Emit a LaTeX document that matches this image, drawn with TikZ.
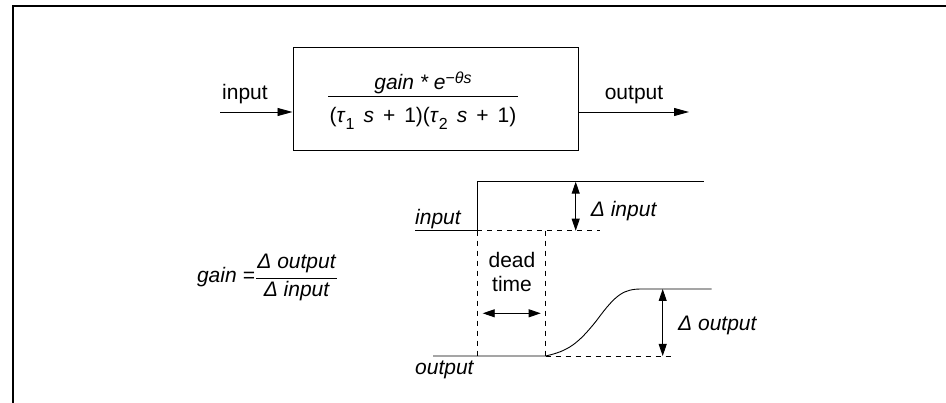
\documentclass[tikz,border=0pt]{standalone}
\usepackage{fontspec}
\setmainfont{Liberation Sans}
\usetikzlibrary{arrows.meta}
\tikzset{
  txt/.style={inner sep=0pt, anchor=base, font=\fontsize{21}{24}\selectfont},
  itxt/.style={txt, font=\fontsize{21}{24}\selectfont\itshape},
  sig/.style={line width=0.9pt},
  guide/.style={line width=0.9pt, dash pattern=on 5pt off 5pt},
  arr/.style={line width=0.9pt, -{Triangle[length=15pt,width=8pt]}},
  dbl/.style={line width=0.9pt, {Triangle[length=12pt,width=8pt]}-{Triangle[length=12pt,width=8pt]}},
  block/.style={draw, line width=1pt, minimum width=285pt, minimum height=103pt, inner sep=0pt}
}
\newcommand{\smallscript}[1]{{\fontsize{16}{16}\selectfont #1}}
\newcommand{\gap}{\hspace{9pt}}
\begin{document}
\begin{tikzpicture}[x=1pt,y=-1pt]
  \useasboundingbox (0,0) rectangle (946,403);
  % frame edges
  \draw[line width=2.2pt] (13,403) -- (13,6) -- (946,6);

  % transfer-function block
  \node[block] (box) at (435.5,99.5) {};
  \node[itxt] (num) at (423,90) {gain * e\raisebox{0.6ex}{\smallscript{\upshape−}\smallscript{θs}}};
  \node[txt] (den) at (423,122.5) {(\textit{τ}\raisebox{-0.6ex}{\smallscript{1}}\gap\textit{s}\gap+\gap1)(\textit{τ}\raisebox{-0.6ex}{\smallscript{2}}\gap\textit{s}\gap+\gap1)};
  \draw[line width=0.9pt] (328,96.7) -- (518,96.7);

  \coordinate (inS) at (220,112);
  \coordinate (outE) at (689,112);
  \draw[arr] (inS) -- (inS -| box.west);
  \draw[arr] (outE -| box.east) -- (outE);
  \node[txt] (inlab) at (245,100) {input};
  \node[txt] (outlab) at (634,100) {output};

  % gain definition
  \node[itxt, anchor=base east] (gainlab) at (255,283) {gain =};
  \node[itxt] (gnum) at (296.5,269) {Δ output};
  \node[itxt] (gden) at (296.5,296.7) {Δ input};
  \draw[line width=0.9pt] (256,278.3) -- (337,278.3);

  % input step
  \coordinate (i0) at (415,230.7);
  \coordinate (i1) at (477,230.7);
  \coordinate (i2) at (477,181.7);
  \coordinate (i3) at (704,181.7);
  \draw[sig] (i0) -- (i1) -- (i2) -- (i3);
  \coordinate (iD) at (600,230.7);
  \draw[guide] (i1) -- (iD);
  \node[itxt, anchor=base west] (instep) at (415,225) {input};
  \coordinate (dIa) at (575.7,181.7);
  \coordinate (dIb) at (575.7,230.7);
  \draw[dbl] (dIa) -- (dIb);
  \node[itxt, anchor=base west] (dIlab) at (590.7,217) {Δ input};

  % output response
  \coordinate (o0) at (433,356);
  \coordinate (o1) at (545.7,356);
  \coordinate (om) at (597,320);
  \coordinate (o2) at (641.7,289);
  \coordinate (o3) at (711.7,289);
  \draw[sig] (o0) -- (o1) .. controls (568,351) and (578,344) .. (om)
             .. controls (616,294) and (624,289) .. (o2) -- (o3);
  \coordinate (oD) at (675,356);
  \draw[guide] (o1) -- (oD);
  \node[itxt, anchor=base west] (outstep) at (415,375) {output};
  \coordinate (dOa) at (662.7,289);
  \coordinate (dOb) at (662.7,356);
  \draw[dbl] (dOa) -- (dOb);
  \node[itxt, anchor=base west] (dOlab) at (678,331) {Δ output};

  % dead time
  \coordinate (t0) at (477,356);
  \coordinate (t1) at (545.7,230.7);
  \draw[guide] (i1) -- (t0);
  \draw[guide] (t1) -- (o1);
  \node[txt] (dead) at (512,267.7) {dead};
  \node[txt] (time) at (512,291.7) {time};
  \coordinate (da) at (482.7,313.3);
  \coordinate (db) at (540.7,313.3);
  \draw[dbl] (da) -- (db);
\end{tikzpicture}
\end{document}
